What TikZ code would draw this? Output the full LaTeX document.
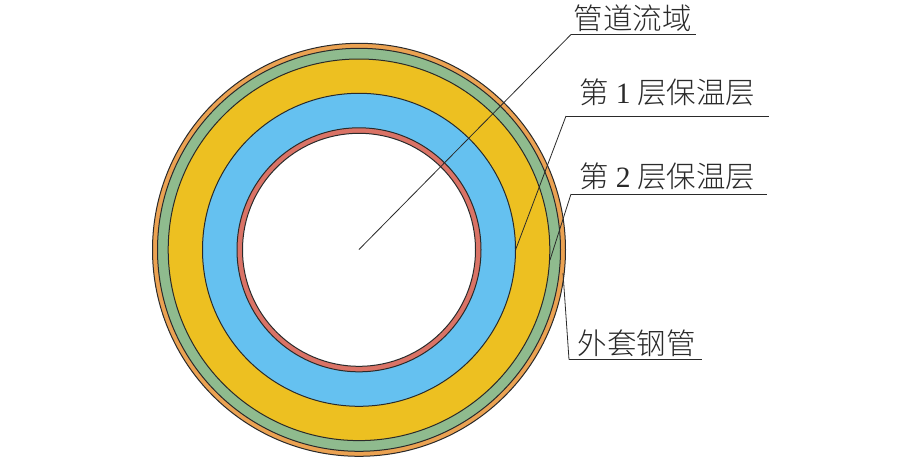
\documentclass[tikz,border=0pt]{standalone}
\usepackage{fontspec}
\setmainfont{Liberation Serif}
\newfontfamily\cjk{Noto Sans CJK SC Light}[]
\definecolor{cOrange}{HTML}{EBA252}
\definecolor{cGreen}{HTML}{8FBB8E}
\definecolor{cYellow}{HTML}{EDC021}
\definecolor{cBlue}{HTML}{65C1F0}
\definecolor{cRed}{HTML}{DA7366}
\definecolor{cLine}{HTML}{2A2A2A}
\tikzset{
  ring/.style={draw=cLine,line width=1pt},
  leader/.style={draw=cLine,line width=0.8pt},
  shelf/.style={draw=cLine,line width=1pt},
  lab/.style={inner sep=0pt,anchor=base,text=cLine,font=\fontsize{29.5pt}{31pt}\selectfont}
}
\begin{document}
\begin{tikzpicture}[x=1pt,y=-1pt]
\useasboundingbox (0,0) rectangle (922,461);
\coordinate (c) at (359,249.8);
\fill[white] (0,0) rectangle (922,461);
\path[ring,fill=cOrange] (c) circle[radius=206.5];
\path[ring,fill=cGreen] (c) circle[radius=201.5];
\path[ring,fill=cYellow] (c) circle[radius=190.8];
\path[ring,fill=cBlue] (c) circle[radius=156.5];
\path[ring,fill=cRed] (c) circle[radius=122];
\path[ring,fill=white] (c) circle[radius=116.5];
\node[lab] (t1) at (632.5,29.5) {\cjk 管道流域};
\node[lab] (t2) at (667.5,103) {\cjk 第 {\rmfamily 1} 层保温层};
\node[lab] (t3) at (667.5,187) {\cjk 第 {\rmfamily 2} 层保温层};
\node[lab] (t4) at (636.5,354) {\cjk 外套钢管};
\coordinate (a1) at (359,249.5);
\coordinate (k1) at (571,34.5);
\coordinate (e1) at (696,34.5);
\coordinate (a2) at (515.5,250);
\coordinate (k2) at (566,116);
\coordinate (e2) at (769,116);
\coordinate (a3) at (550,260);
\coordinate (k3) at (571,194);
\coordinate (e3) at (767,194);
\coordinate (a4) at (563,273);
\coordinate (k4) at (569,359.5);
\coordinate (e4) at (702,359.5);
\draw[leader] (a1) -- (k1);
\draw[shelf] (k1) -- (e1);
\draw[leader] (a2) -- (k2);
\draw[shelf] (k2) -- (e2);
\draw[leader] (a3) -- (k3);
\draw[shelf] (k3) -- (e3);
\draw[leader] (a4) -- (k4);
\draw[shelf] (k4) -- (e4);
\end{tikzpicture}
\end{document}
